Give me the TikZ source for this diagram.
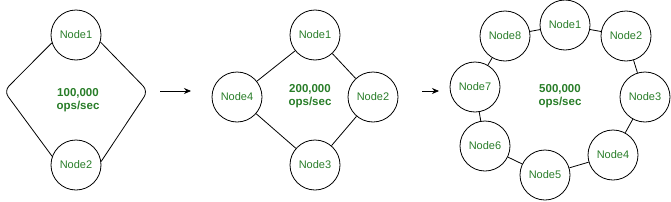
\documentclass[tikz,border=0pt]{standalone}
\usepackage{fontspec}
\setmainfont{Liberation Sans}
\usetikzlibrary{arrows.meta}
\definecolor{txtgreen}{RGB}{40,125,40}
\begin{document}
\begin{tikzpicture}[x=1pt,y=-1pt,
  nd/.style={circle,draw=black,line width=0.8pt,minimum size=50pt,inner sep=0pt,
    text=txtgreen,font=\fontsize{11}{13}\selectfont},
  lbl/.style={text=txtgreen,font=\bfseries\fontsize{11.5}{13}\selectfont,align=center},
  edge/.style={draw=black,line width=0.8pt},
  flow/.style={draw=black,line width=0.8pt,-{Stealth[length=7pt,width=6pt]}}]
\useasboundingbox (0,0) rectangle (671,201);
% diagram 1
\node[nd] (a1) at (76,35) {Node1};
\node[nd] (a2) at (76,165) {Node2};
\node[lbl] (at) at (78,100) {100,000\\ops/sec};
\coordinate (al) at (4,91);
\coordinate (ar) at (148,91);
\draw[edge,rounded corners=7pt] (a1.198) -- (al) -- (a2.160);
\draw[edge,rounded corners=7pt] (a1.344) -- (ar) -- (a2.8);
% arrow 1
\coordinate (f1s) at (160,91);
\coordinate (f1e) at (191,91);
\draw[flow] (f1s) -- (f1e);
% diagram 2
\node[nd] (b1) at (315,35) {Node1};
\node[nd] (b2) at (373,97) {Node2};
\node[nd] (b3) at (315,165) {Node3};
\node[nd] (b4) at (237,97) {Node4};
\node[lbl] (bt) at (310,96) {200,000\\ops/sec};
\draw[edge] (b1) -- (b2) -- (b3) -- (b4) -- (b1);
% arrow 2
\coordinate (f2s) at (422,91);
\coordinate (f2e) at (439,91);
\draw[flow] (f2s) -- (f2e);
% diagram 3
\node[nd] (c1) at (565,25) {Node1};
\node[nd] (c2) at (626,36) {Node2};
\node[nd] (c3) at (645,97) {Node3};
\node[nd] (c4) at (613,155) {Node4};
\node[nd] (c5) at (545,175) {Node5};
\node[nd] (c6) at (485,146) {Node6};
\node[nd] (c7) at (475,87) {Node7};
\node[nd] (c8) at (505,36) {Node8};
\node[lbl] (ct) at (560,96) {500,000\\ops/sec};
\draw[edge] (c1) -- (c2) -- (c3) -- (c4) -- (c5) -- (c6) -- (c7) -- (c8) -- (c1);
\end{tikzpicture}
\end{document}
